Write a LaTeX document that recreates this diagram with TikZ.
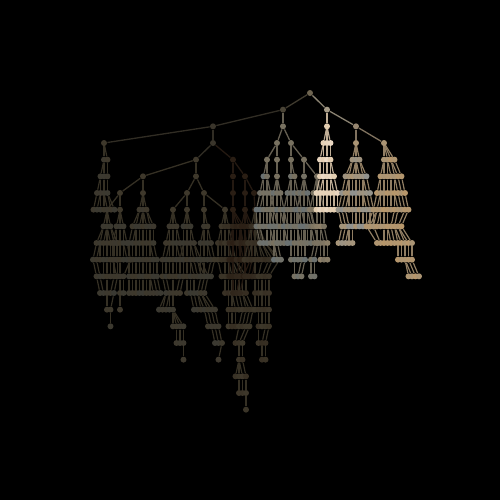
\documentclass[tikz,border=0pt]{standalone}
\definecolor{RootClr}{HTML}{6E6450}
\definecolor{StemClr}{HTML}{4A4436}
\definecolor{DimClr}{HTML}{3A352B}
\definecolor{OliveClr}{HTML}{3E382B}
\definecolor{MossClr}{HTML}{363A3A}
\definecolor{SootClr}{HTML}{2A1E14}
\definecolor{AshClr}{HTML}{787160}
\definecolor{SlateClr}{HTML}{56708A}
\definecolor{CreamClr}{HTML}{E2CDB0}
\definecolor{BlushClr}{HTML}{F8ECE4}
\definecolor{TanClr}{HTML}{AA9474}
\definecolor{AmberClr}{HTML}{C89A60}
\definecolor{SkyClr}{HTML}{7090B0}
\definecolor{PaleClr}{HTML}{A49A86}
\definecolor{FawnClr}{HTML}{968670}

\pgfdeclarelayer{back}
\pgfdeclarelayer{edges}
\pgfsetlayers{back,edges,main}

\newif\ifedgepass
% #1 root node, #2 x, #3 level, #4 #5 colours, #6 list of left/right spreads
\newcommand\bushloop[6]{%
  \xdef\prevl{0}\xdef\prevr{0}%
  \foreach \lw/\rw [count=\lv] in {#6}{%
    \pgfmathtruncatemacro\lvp{\lv-1}%
    \pgfmathtruncatemacro\jmax{\lw+\rw}%
    \foreach \jj in {0,...,\jmax}{%
      \pgfmathtruncatemacro\ix{\jj-\lw}%
      \ifedgepass
        \pgfmathtruncatemacro\jp{max(-1*(\prevl),min(\prevr,(\ix<0)*round((\ix)*(\prevl)/max(\lw,1))+(\ix>0)*round((\ix)*(\prevr)/max(\rw,1))))+\prevl}%
        \draw[twig,#4!85!black] (#1-\lvp-\jp) -- (#1-\lv-\jj);
      \else
        \pgfmathrandominteger\mix{55}{100}%
        \node[knot,fill=#4!\mix!#5] (#1-\lv-\jj) at (#2+\ix*3.5,#3+\lv) {};
      \fi
    }%
    \xdef\prevl{\lw}\xdef\prevr{\rw}%
  }%
}
\newcommand\bush[6]{%
  \coordinate (#1-0-0) at (#1);
  \edgepassfalse\bushloop{#1}{#2}{#3}{#4}{#5}{#6}%
  \begin{pgfonlayer}{edges}
    \edgepasstrue\bushloop{#1}{#2}{#3}{#4}{#5}{#6}%
  \end{pgfonlayer}
}

\begin{document}
\begin{tikzpicture}[x=0.5pt,y=-8.333pt,
  knot/.style={circle,inner sep=0pt,minimum size=3pt},
  twig/.style={line width=0.6pt},
  link/.style={line width=0.65pt}]
\pgfmathsetseed{7}
\begin{pgfonlayer}{back}
\fill[black] (0,-5.58) rectangle (500,24.42);
\end{pgfonlayer}
\useasboundingbox (0,-5.58) rectangle (500,24.42);

% upper part of the tree
\foreach \nm/\x/\y/\clr in {r/310/0/RootClr, a/283/1/StemClr, b/327/1/PaleClr,
  c/213/2/DimClr, d/283/2/AshClr, e/327/2/CreamClr, f/356/2/FawnClr,
  c1/104/3/OliveClr, c2/213/3/DimClr, c21/196/4/OliveClr, c22/233/4/SootClr,
  c211/143/5/OliveClr, c212/196/5/OliveClr, c221/233/5/SootClr, c222/245/5/SootClr,
  c2111/120/6/OliveClr, c2112/143/6/OliveClr, c2121/187/6/OliveClr, c2122/204/6/OliveClr,
  c2211/233/6/SootClr, c2221/245/6/SootClr, c2222/254/6/SootClr,
  k1/107/7/OliveClr, k2/120/7/OliveClr, k3/173/7/OliveClr, k4/187/7/OliveClr,
  k5/204/7/OliveClr, k6/225/7/OliveClr, k7/233/7/SootClr, k8/245/7/SootClr, k9/255/7/SootClr,
  d1/277/3/AshClr, d2/291/3/AshClr, d11/267/4/AshClr, d12/277/4/AshClr,
  d21/291/4/AshClr, d22/304/4/AshClr, d221/317/5/AshClr,
  g/356/3/TanClr, h/384/3/TanClr}
  \node[knot,fill=\clr] (\nm) at (\x,\y) {};

\begin{pgfonlayer}{edges}
\foreach \p/\q/\clr in {r/a/StemClr, r/b/PaleClr, a/c/DimClr, a/d/AshClr, b/e/CreamClr, b/f/PaleClr,
  c/c1/DimClr, c/c2/DimClr, c2/c21/DimClr, c2/c22/SootClr, c21/c211/OliveClr, c21/c212/OliveClr,
  c22/c221/SootClr, c22/c222/SootClr, c211/c2111/OliveClr, c211/c2112/OliveClr,
  c212/c2121/OliveClr, c212/c2122/OliveClr, c221/c2211/SootClr, c222/c2221/SootClr, c222/c2222/SootClr,
  c2111/k1/OliveClr, c2111/k2/OliveClr, c2121/k3/OliveClr, c2121/k4/OliveClr,
  c2122/k5/OliveClr, c2122/k6/OliveClr, c2211/k7/SootClr, c2221/k8/SootClr, c2222/k9/SootClr,
  d/d1/AshClr, d/d2/AshClr, d1/d11/AshClr, d1/d12/AshClr, d2/d21/AshClr, d2/d22/AshClr,
  d22/d221/AshClr, f/g/FawnClr, f/h/FawnClr}
  \draw[link,\clr!85!black] (\p) -- (\q);
\end{pgfonlayer}

% bushes below
\bush{c1}{104}{3}{OliveClr}{MossClr}{0/1,1/1,2/1,3/3}
\bush{c2112}{143}{6}{OliveClr}{MossClr}{1/1,3/3,4/3,4/4,4/4,4/5}
\bush{k1}{107}{7}{OliveClr}{MossClr}{1/1,3/3,4/3,3/3,2/2,0/1,-1/1}
\bush{k2}{120}{7}{OliveClr}{MossClr}{1/1,2/2,2/3,1/1,0/1,0/0}
\bush{k3}{173}{7}{OliveClr}{MossClr}{1/1,2/2,3/3,3/3,2/2,4/0,0/3,-1/3,-3/3}
\bush{k4}{187}{7}{OliveClr}{MossClr}{1/1,1/2,2/4,0/6,0/5,-2/8,-6/9,-8/10,-9/9}
\bush{k5}{204}{7}{OliveClr}{MossClr}{0/1,1/2,1/3,1/2}
\bush{k6}{225}{7}{OliveClr}{SootClr}{1/1,2/2,2/3,1/6,0/6,-1/8,-1/7,-3/5,-4/5,-3/6,-4/6,-6/6}
\bush{k7}{233}{7}{SootClr}{OliveClr}{0/3,1/4,1/5,1/3,0/2}
\bush{k8}{245}{7}{SootClr}{OliveClr}{1/2,2/3,1/3,0/2}
\bush{k9}{255}{7}{OliveClr}{SootClr}{1/1,2/3,3/7,0/4,0/4,0/4,-1/4,-1/3,-2/3}
\bush{d11}{267}{4}{AshClr}{SlateClr}{1/0,2/1,3/2,3/3,2/3,-2/4}
\bush{d12}{277}{4}{AshClr}{SlateClr}{0/0,1/1,2/2,2/3,1/3}
\bush{d21}{291}{4}{AshClr}{SlateClr}{0/1,1/2,2/3,2/4,1/4,0/4,-1/3}
\bush{d22}{304}{4}{AshClr}{SlateClr}{0/0,1/1,2/2,2/3,1/4,-2/3,-2/3}
\bush{d221}{317}{5}{AshClr}{TanClr}{1/1,2/2,1/2,0/3,-1/3}
\bush{e}{327}{2}{CreamClr}{BlushClr}{1/1,2/1,2/2,3/3,3/3}
\bush{g}{356}{3}{TanClr}{SkyClr}{1/1,3/3,4/4,5/5,4/5,5/-1}
\bush{h}{384}{3}{TanClr}{AmberClr}{0/3,1/5,2/6,3/7,5/5,2/8,-4/8,-7/10}
\end{tikzpicture}
\end{document}
